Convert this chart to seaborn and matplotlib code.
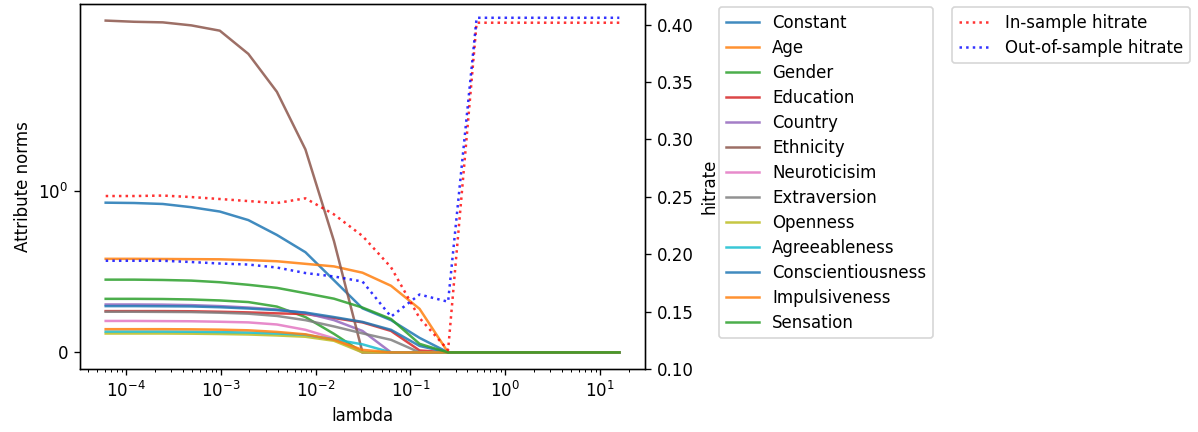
import matplotlib
matplotlib.use("Agg")
import matplotlib.pyplot as plt
import seaborn as sns
import numpy as np

# lambda grid (powers of two, 2^-14 ... 2^4)
lambdas = [2.0**-14, 2.0**-13, 2.0**-12, 2.0**-11, 2.0**-10, 2.0**-9, 2.0**-8,
           2.0**-7, 2.0**-6, 2.0**-5, 2.0**-4, 2.0**-3, 2.0**-2, 2.0**-1,
           2.0**0, 2.0**1, 2.0**2, 2.0**3, 2.0**4]

attributes = ["Constant", "Age", "Gender", "Education", "Country", "Ethnicity",
              "Neuroticisim", "Extraversion", "Openness", "Agreeableness",
              "Conscientiousness", "Impulsiveness", "Sensation"]

constant = [0.928, 0.926, 0.920, 0.900, 0.873, 0.820, 0.728, 0.621, 0.447, 0.273, 0.200, 0.090, 0, 0, 0, 0, 0, 0, 0]
age = [0.580, 0.580, 0.579, 0.578, 0.577, 0.572, 0.565, 0.549, 0.533, 0.494, 0.413, 0.270, 0, 0, 0, 0, 0, 0, 0]
gender = [0.332, 0.332, 0.331, 0.328, 0.322, 0.312, 0.284, 0.219, 0.115, 0, 0, 0, 0, 0, 0, 0, 0, 0, 0]
education = [0.256, 0.256, 0.256, 0.255, 0.252, 0.248, 0.242, 0.238, 0.213, 0.186, 0.133, 0.012, 0, 0, 0, 0, 0, 0, 0]
country = [0.297, 0.297, 0.296, 0.293, 0.287, 0.278, 0.266, 0.244, 0.200, 0.133, 0, 0, 0, 0, 0, 0, 0, 0, 0]
ethnicity = [2.15, 2.13, 2.12, 2.07, 1.994, 1.85, 1.615, 1.258, 0.69, 0, 0, 0, 0, 0, 0, 0, 0, 0, 0]
neuroticism = [0.195, 0.195, 0.194, 0.193, 0.190, 0.186, 0.173, 0.140, 0.087, 0, 0, 0, 0, 0, 0, 0, 0, 0, 0]
extraversion = [0.252, 0.252, 0.251, 0.250, 0.246, 0.240, 0.226, 0.200, 0.161, 0.118, 0.078, 0, 0, 0, 0, 0, 0, 0, 0]
openness = [0.117, 0.117, 0.117, 0.116, 0.114, 0.111, 0.105, 0.097, 0.072, 0, 0, 0, 0, 0, 0, 0, 0, 0, 0]
agreeableness = [0.129, 0.129, 0.129, 0.128, 0.126, 0.123, 0.117, 0.109, 0.081, 0.050, 0, 0, 0, 0, 0, 0, 0, 0, 0]
conscientiousness = [0.287, 0.287, 0.286, 0.285, 0.280, 0.272, 0.262, 0.247, 0.219, 0.189, 0.140, 0.040, 0, 0, 0, 0, 0, 0, 0]
impulsiveness = [0.144, 0.144, 0.144, 0.143, 0.141, 0.137, 0.127, 0.112, 0.078, 0.016, 0, 0, 0, 0, 0, 0, 0, 0, 0]
sensation = [0.451, 0.451, 0.449, 0.445, 0.435, 0.419, 0.400, 0.367, 0.333, 0.278, 0.207, 0.053, 0, 0, 0, 0, 0, 0, 0]

in_sample = [0.2507, 0.2507, 0.2511, 0.2498, 0.2481, 0.2463, 0.2446, 0.2487, 0.2347, 0.2159,
             0.1886, 0.1444, 0.1165, 0.4017, 0.4017, 0.4017, 0.4017, 0.4017, 0.4017]
out_sample = [0.1943, 0.1943, 0.1943, 0.1932, 0.1919, 0.1910, 0.1884, 0.1836, 0.1806, 0.1762,
              0.1456, 0.1649, 0.1586, 0.406, 0.406, 0.406, 0.406, 0.406, 0.406]

series = [constant, age, gender, education, country, ethnicity, neuroticism,
          extraversion, openness, agreeableness, conscientiousness, impulsiveness, sensation]

DPI = 120
fig = plt.figure(figsize=(1198 / DPI, 432 / DPI), dpi=DPI)
fig.subplots_adjust(left=80 / 1198, right=645 / 1198, bottom=1 - 369 / 432, top=1 - 4 / 432)
ax = fig.add_subplot(111)
ax.set_xscale("log")
ax.set_yscale("symlog")

palette = sns.color_palette("tab10", 10)
for i, (name, vals) in enumerate(zip(attributes, series)):
    sns.lineplot(x=lambdas, y=vals, ax=ax, color=palette[i % 10], lw=1.5, alpha=0.85, label=name)
ax.set_xscale("log")
ax.set_yscale("symlog")
ax.relim()
ax.autoscale_view()
ax.set_xlabel("lambda")
ax.set_ylabel("Attribute norms")
h1, l1 = ax.get_legend_handles_labels()
ax.get_legend().remove()

ax2 = ax.twinx()
sns.lineplot(x=lambdas, y=in_sample, ax=ax2, color="red", linestyle=":", lw=1.5, alpha=0.8,
             label="In-sample hitrate")
sns.lineplot(x=lambdas, y=out_sample, ax=ax2, color="blue", linestyle=":", lw=1.5, alpha=0.8,
             label="Out-of-sample hitrate")
ax2.set_ylabel("hitrate")
ax2.set_ylim(0.10, 0.418)
ax2.set_yticks([0.10, 0.15, 0.20, 0.25, 0.30, 0.35, 0.40])
h2, l2 = ax2.get_legend_handles_labels()
ax2.get_legend().remove()

aw = 645 - 80
ah = 369 - 4
leg1 = ax2.legend(h1, l1, loc="upper left", bbox_to_anchor=((719 - 80) / aw, (369 - 7) / ah),
                  borderaxespad=0, labelspacing=0.42)
ax2.add_artist(leg1)
ax2.legend(h2, l2, loc="upper left", bbox_to_anchor=((952 - 80) / aw, (369 - 7) / ah),
           borderaxespad=0, labelspacing=0.42)

fig.savefig("out.png", dpi=DPI)
